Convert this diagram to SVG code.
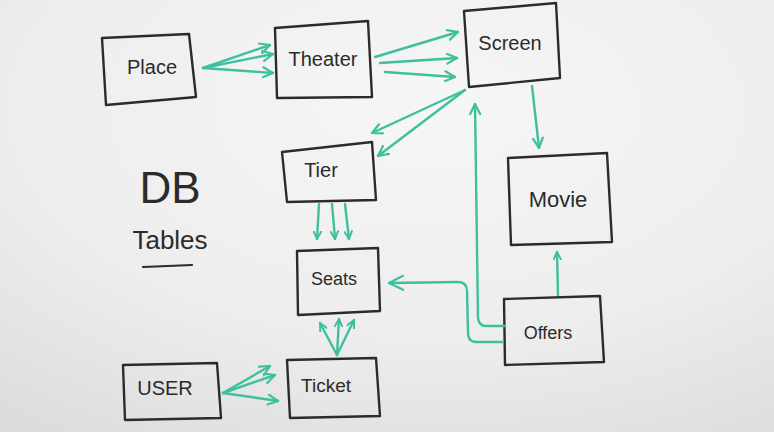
<svg xmlns="http://www.w3.org/2000/svg" width="774" height="432" viewBox="0 0 774 432">
<defs>
<radialGradient id="bg" cx="0.55" cy="0.25" r="0.9">
<stop offset="0" stop-color="#f6f6f6"/>
<stop offset="0.6" stop-color="#ededed"/>
<stop offset="1" stop-color="#dcdcdc"/>
</radialGradient>
<marker id="ah" viewBox="0 0 12 12" refX="11" refY="6" markerWidth="12" markerHeight="12" markerUnits="userSpaceOnUse" orient="auto">
<path d="M1,1 L11,6 L1,11" fill="none" stroke="#3fbf9e" stroke-width="2.2" stroke-linecap="round" stroke-linejoin="round"/>
</marker>
<marker id="ahs" viewBox="0 0 12 12" refX="11" refY="6" markerWidth="9" markerHeight="9" markerUnits="userSpaceOnUse" orient="auto">
<path d="M1,1 L11,6 L1,11" fill="none" stroke="#3fbf9e" stroke-width="2.6" stroke-linecap="round" stroke-linejoin="round"/>
</marker>
<marker id="ahl" viewBox="0 0 16 16" refX="15" refY="8" markerWidth="16" markerHeight="16" markerUnits="userSpaceOnUse" orient="auto">
<path d="M1,1 L15,8 L1,15" fill="none" stroke="#3fbf9e" stroke-width="2.2" stroke-linecap="round" stroke-linejoin="round"/>
</marker>
</defs>
<style>
.box{fill:none;stroke:#2b2b2b;stroke-width:2.4;stroke-linejoin:round}
.lbl{font-family:"Liberation Sans","DejaVu Sans",sans-serif;fill:#2b2b2b;text-anchor:middle;dominant-baseline:middle}
.c{fill:none;stroke:#3fbf9e;stroke-width:2.4;stroke-linecap:round;stroke-linejoin:round}
</style>
<rect width="774" height="432" fill="url(#bg)"/>

<g id="node-place">
<polygon class="box" points="102,38 189,34 196,97 106,105"/>
<text class="lbl" x="152" y="69" font-size="20">Place</text>
</g>
<g id="node-theater">
<polygon class="box" points="275,28 368,21 372,97 277,98"/>
<text class="lbl" x="323" y="61" font-size="20">Theater</text>
</g>
<g id="node-screen">
<polygon class="box" points="464,11 556,3 560,78 469,87"/>
<text class="lbl" x="510" y="45" font-size="20">Screen</text>
</g>
<g id="node-tier">
<polygon class="box" points="282,152 372,142 376,200 287,202"/>
<text class="lbl" x="321" y="172" font-size="20">Tier</text>
</g>
<g id="node-movie">
<polygon class="box" points="508,158 607,153 612,242 511,245"/>
<text class="lbl" x="558" y="201" font-size="22">Movie</text>
</g>
<g id="node-seats">
<polygon class="box" points="297,251 378,248 380,311 298,315"/>
<text class="lbl" x="334" y="280" font-size="18">Seats</text>
</g>
<g id="node-offers">
<polygon class="box" points="504,299 600,296 604,362 505,365"/>
<text class="lbl" x="548" y="334" font-size="18">Offers</text>
</g>
<g id="node-user">
<polygon class="box" points="123,365 217,363 221,418 125,420"/>
<text class="lbl" x="165" y="390" font-size="20">USER</text>
</g>
<g id="node-ticket">
<polygon class="box" points="287,360 376,358 380,416 290,418"/>
<text class="lbl" x="326" y="387" font-size="19">Ticket</text>
</g>
<g id="title">
<text class="lbl" x="170" y="191" font-size="44">DB</text>
<text class="lbl" x="170" y="242" font-size="26">Tables</text>
<path d="M143,267 L192,265" fill="none" stroke="#2b2b2b" stroke-width="2.2" stroke-linecap="round"/>
</g>

<g id="connectors">
<!-- Place to Theater -->
<path class="c" d="M203,68 L270,45" marker-end="url(#ah)"/>
<path class="c" d="M203,68 L273,54" marker-end="url(#ah)"/>
<path class="c" d="M203,68 L273,73" marker-end="url(#ah)"/>
<!-- Theater to Screen -->
<path class="c" d="M375,57 L458,32" marker-end="url(#ah)"/>
<path class="c" d="M380,63 L457,58" marker-end="url(#ah)"/>
<path class="c" d="M385,72 L455,77" marker-end="url(#ah)"/>
<!-- Screen to Tier -->
<path class="c" d="M465,90 L372,133" marker-end="url(#ah)"/>
<path class="c" d="M465,90 L378,156" marker-end="url(#ah)"/>
<!-- Screen to Movie -->
<path class="c" d="M532,86 L539,148" marker-end="url(#ah)"/>
<!-- Tier to Seats -->
<path class="c" d="M319,204 L317,239" marker-end="url(#ahs)"/>
<path class="c" d="M332,204 L335,239" marker-end="url(#ahs)"/>
<path class="c" d="M345,204 L349,239" marker-end="url(#ahs)"/>
<!-- Ticket to Seats -->
<path class="c" d="M337,355 L320,323" marker-end="url(#ahs)"/>
<path class="c" d="M337,355 L339,319" marker-end="url(#ahs)"/>
<path class="c" d="M337,355 L354,320" marker-end="url(#ahs)"/>
<!-- User to Ticket -->
<path class="c" d="M223,393 L270,366" marker-end="url(#ah)"/>
<path class="c" d="M223,393 L275,375" marker-end="url(#ah)"/>
<path class="c" d="M223,393 L278,401" marker-end="url(#ah)"/>
<!-- Offers to Screen -->
<path class="c" d="M505,326 L486,326 Q479,326 478,318 L475,104" marker-end="url(#ah)"/>
<!-- Offers to Seats -->
<path class="c" d="M503,342 L476,342 Q468,342 468,332 L467,291 Q467,282 458,282 L389,283" marker-end="url(#ahl)"/>
<!-- Offers to Movie -->
<path class="c" d="M558,295 L557,252" marker-end="url(#ahs)"/>
</g>
</svg>
